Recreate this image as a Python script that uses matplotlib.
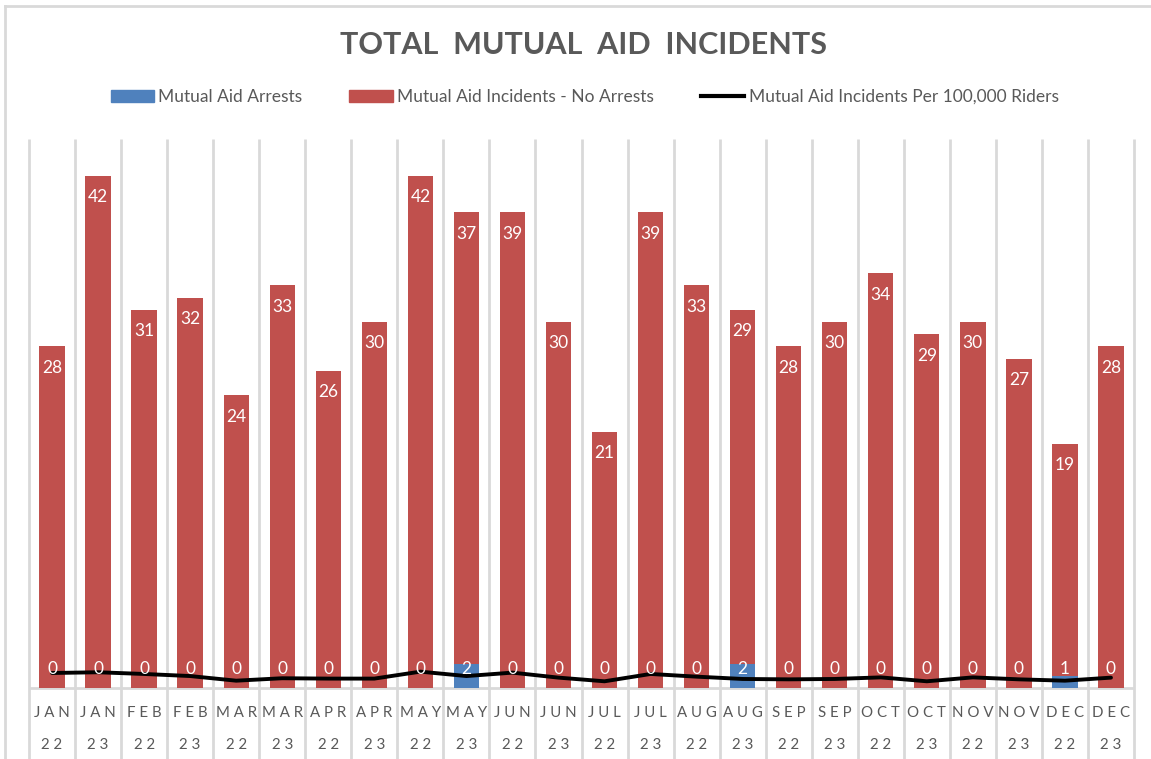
import matplotlib
matplotlib.use("Agg")
import matplotlib.pyplot as plt
import matplotlib.patches as mpatches
from matplotlib.lines import Line2D
import numpy as np

plt.rcParams["font.family"] = ["Lato", "DejaVu Sans"]

months = ["JAN", "JAN", "FEB", "FEB", "MAR", "MAR", "APR", "APR", "MAY", "MAY", "JUN", "JUN",
          "JUL", "JUL", "AUG", "AUG", "SEP", "SEP", "OCT", "OCT", "NOV", "NOV", "DEC", "DEC"]
years = ["22", "23"] * 12
arrests = [0, 0, 0, 0, 0, 0, 0, 0, 0, 2, 0, 0, 0, 0, 0, 2, 0, 0, 0, 0, 0, 0, 1, 0]
no_arrests = [28, 42, 31, 32, 24, 33, 26, 30, 42, 37, 39, 30,
              21, 39, 33, 29, 28, 30, 34, 29, 30, 27, 19, 28]
per_100k = [1.23, 1.29, 1.15, 0.98, 0.60, 0.80, 0.77, 0.77, 1.34, 0.98, 1.26, 0.85,
            0.55, 1.15, 0.93, 0.74, 0.71, 0.74, 0.87, 0.55, 0.87, 0.71, 0.60, 0.85]

red = "#C0504D"
blue = "#4F81BD"
grid = "#D9D9D9"
txt = "#595959"

fig = plt.figure(figsize=(11.51, 7.59), dpi=100)
ax = fig.add_axes([29 / 1151, 71 / 759, (1134 - 29) / 1151, (688 - 139) / 759])

x = np.arange(len(months))
ax.bar(x, arrests, width=0.55, color=blue, zorder=2)
ax.bar(x, no_arrests, width=0.55, bottom=arrests, color=red, zorder=2)
ax.plot(x, per_100k, color="black", lw=2.8, zorder=3, solid_capstyle="round")

ax.set_xlim(-0.5, len(months) - 0.5)
ax.set_ylim(0, 45)
ax.axis("off")

# category separators run down through the tick label area
ax.vlines(np.arange(len(months) + 1) - 0.5, -5.9, 45, color=grid, lw=2, zorder=1, clip_on=False)
ax.hlines(0, -0.5, len(months) - 0.5, color=grid, lw=2, zorder=1, clip_on=False)

for i in x:
    total = arrests[i] + no_arrests[i]
    ax.text(i, total - 1.75, str(no_arrests[i]), ha="center", va="center",
            color="white", fontsize=12.5, zorder=4)
    ax.text(i, 1.55, str(arrests[i]), ha="center", va="center",
            color="white", fontsize=12.5, zorder=4)
    ax.text(i, -2.05, " ".join(months[i]), ha="center", va="center",
            color=txt, fontsize=10.8, clip_on=False)
    ax.text(i, -4.65, " ".join(years[i]), ha="center", va="center",
            color=txt, fontsize=10.8, clip_on=False)

fig.text(0.507, 1 - 45 / 759, "TOTAL  MUTUAL  AID  INCIDENTS", ha="center", va="center",
         fontsize=22, fontweight="bold", color=txt)

handles = [mpatches.Patch(color=blue), mpatches.Patch(color=red),
           Line2D([0], [0], color="black", lw=3)]
labels = ["Mutual Aid Arrests", "Mutual Aid Incidents - No Arrests",
          "Mutual Aid Incidents Per 100,000 Riders"]
leg = fig.legend(handles, labels, ncol=3, loc="center", bbox_to_anchor=(0.508, 1 - 97 / 759),
                 frameon=False, fontsize=12.5, handlelength=2.5, handletextpad=0.25,
                 columnspacing=2.7, labelcolor=txt)

# chart frame
fig.add_artist(Line2D([5 / 1151, 1], [1 - 6 / 759, 1 - 6 / 759], color=grid, lw=2))
fig.add_artist(Line2D([5 / 1151, 5 / 1151], [0, 1 - 6 / 759], color=grid, lw=2))

fig.savefig("out.png", dpi=100)
